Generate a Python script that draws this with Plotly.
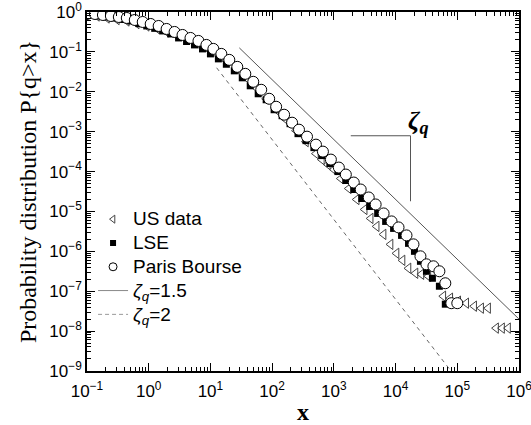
import plotly.graph_objects as go

# ---- data (log10 values) ----
paris_logx = [-1.0, -0.871, -0.742, -0.613, -0.484, -0.355, -0.226, -0.097, 0.032, 0.161,
              0.290, 0.419, 0.548, 0.677, 0.806, 0.935, 1.048, 1.177, 1.306, 1.435,
              1.565, 1.694, 1.823, 1.952, 2.065, 2.194, 2.323, 2.435, 2.565, 2.710,
              2.823, 2.952, 3.081, 3.194, 3.323, 3.435, 3.565, 3.677, 3.806, 3.935,
              4.048, 4.177, 4.290, 4.403, 4.500, 4.613, 4.710, 4.806, 4.903, 5.0]
paris_logy = [-0.05, -0.05, -0.075, -0.1, -0.125, -0.15, -0.2, -0.25, -0.3, -0.35,
              -0.425, -0.5, -0.575, -0.65, -0.725, -0.825, -0.925, -1.05, -1.2, -1.375,
              -1.55, -1.75, -1.95, -2.175, -2.375, -2.575, -2.775, -2.95, -3.125, -3.325,
              -3.5, -3.7, -3.9, -4.075, -4.275, -4.45, -4.65, -4.825, -5.05, -5.25,
              -5.4, -5.6, -5.825, -6.125, -6.325, -6.375, -6.5, -6.8, -7.3, -7.3]

lse_logx = [-0.935, -0.806, -0.677, -0.548, -0.419, -0.290, -0.161, -0.032, 0.097, 0.226,
            0.355, 0.484, 0.613, 0.742, 0.871, 1.0, 1.129, 1.258, 1.387, 1.516,
            1.645, 1.774, 1.903, 2.032, 2.161, 2.290, 2.419, 2.548, 2.677, 2.806,
            2.935, 3.065, 3.194, 3.323, 3.452, 3.581, 3.710, 3.839, 3.968, 4.097,
            4.210, 4.306, 4.403, 4.500, 4.597, 4.710, 4.806]
lse_logy = [-0.075, -0.1, -0.125, -0.15, -0.1875, -0.225, -0.29, -0.35, -0.41, -0.475,
            -0.55, -0.65, -0.74, -0.825, -0.925, -1.05, -1.175, -1.31, -1.475, -1.65,
            -1.85, -2.05, -2.2, -2.45, -2.6, -2.8, -3.05, -3.225, -3.4, -3.6,
            -3.8, -4.0, -4.225, -4.45, -4.675, -4.875, -5.05, -5.25, -5.425, -5.6,
            -5.8, -6.0, -6.25, -6.5, -6.675, -6.875, -7.325]

us_logx = [-1.0, -0.839, -0.677, -0.516, -0.355, -0.194, -0.032, 0.129, 0.290, 0.452,
           0.613, 0.774, 0.935, 1.097, 1.258, 1.419, 1.581, 1.742, 1.903, 2.065,
           2.226, 2.387, 2.548, 2.710, 2.806, 2.903, 3.0, 3.113, 3.242, 3.371,
           3.5, 3.597, 3.694, 3.806, 3.919, 4.016, 4.113, 4.210, 4.323, 4.419,
           4.532, 4.774, 4.887, 5.016, 5.145, 5.274, 5.387, 5.5, 5.629, 5.726, 5.823]
us_logy = [-0.02, -0.1, -0.15, -0.19, -0.225, -0.29, -0.35, -0.41, -0.5, -0.59,
           -0.69, -0.775, -0.9, -1.05, -1.225, -1.425, -1.65, -1.9, -2.175, -2.45,
           -2.7, -2.975, -3.25, -3.55, -3.7, -3.825, -3.95, -4.175, -4.425, -4.7,
           -4.95, -5.175, -5.375, -5.575, -5.825, -6.05, -6.225, -6.425, -6.55, -6.575,
           -6.625, -7.125, -7.175, -7.25, -7.3, -7.375, -7.425, -7.425, -7.925, -7.925, -7.925]

line15_x = [29.4, 1.0e6]
line15_y = [0.126, 2.0e-8]
line2_x = [12.6, 7.9e4]
line2_y = [0.04, 1.0e-9]
zeta_mark_x = [1880, 17460, 17460]
zeta_mark_y = [7.9e-4, 7.9e-4, 1.8e-5]

x_tickvals = [0.1, 1, 10, 100, 1e3, 1e4, 1e5, 1e6]
x_ticktext = ["10<sup>−1</sup>", "10<sup>0</sup>", "10<sup>1</sup>", "10<sup>2</sup>",
              "10<sup>3</sup>", "10<sup>4</sup>", "10<sup>5</sup>", "10<sup>6</sup>"]
y_tickvals = [1e-9, 1e-8, 1e-7, 1e-6, 1e-5, 1e-4, 1e-3, 1e-2, 1e-1, 1]
y_ticktext = ["10<sup>−9</sup>", "10<sup>−8</sup>", "10<sup>−7</sup>", "10<sup>−6</sup>",
              "10<sup>−5</sup>", "10<sup>−4</sup>", "10<sup>−3</sup>", "10<sup>−2</sup>",
              "10<sup>−1</sup>", "10<sup>0</sup>"]

legend_names = ["US data", "LSE", "Paris Bourse",
                "<i>ζ</i><sub><i>q</i></sub>=1.5", "<i>ζ</i><sub><i>q</i></sub>=2"]


def pw(v):
    return [10 ** a for a in v]


def big(t):
    return '<span style="font-size:19px">' + t + '</span>'


us_marker = dict(symbol="triangle-left-open", color="#444", line=dict(width=1, color="#444"))
lse_marker = dict(symbol="square", color="black")
paris_marker = dict(symbol="circle", color="white", line=dict(width=1, color="black"))

fig = go.Figure()
# data traces
fig.add_trace(go.Scatter(x=pw(us_logx), y=pw(us_logy), mode="markers", showlegend=False,
                         marker=dict(size=9, **us_marker)))
fig.add_trace(go.Scatter(x=pw(lse_logx), y=pw(lse_logy), mode="markers", showlegend=False,
                         marker=dict(size=7, **lse_marker)))
fig.add_trace(go.Scatter(x=pw(paris_logx), y=pw(paris_logy), mode="markers", showlegend=False,
                         marker=dict(size=11, **paris_marker)))
fig.add_trace(go.Scatter(x=line15_x, y=line15_y, mode="lines", showlegend=False,
                         line=dict(color="#555", width=1)))
fig.add_trace(go.Scatter(x=line2_x, y=line2_y, mode="lines", showlegend=False,
                         line=dict(color="#666", width=1, dash="4px,4px")))
fig.add_trace(go.Scatter(x=zeta_mark_x, y=zeta_mark_y, mode="lines", showlegend=False,
                         line=dict(color="#555", width=1)))

# legend-only entries (small symbols like the reference)
fig.add_trace(go.Scatter(x=[None], y=[None], mode="markers", name=big(legend_names[0]),
                         marker=dict(size=7, **us_marker)))
fig.add_trace(go.Scatter(x=[None], y=[None], mode="markers", name=big(legend_names[1]),
                         marker=dict(size=6, **lse_marker)))
fig.add_trace(go.Scatter(x=[None], y=[None], mode="markers", name=big(legend_names[2]),
                         marker=dict(size=8, **paris_marker)))
fig.add_trace(go.Scatter(x=[None], y=[None], mode="lines", name=big(legend_names[3]),
                         line=dict(color="#888", width=1)))
fig.add_trace(go.Scatter(x=[None], y=[None], mode="lines", name=big(legend_names[4]),
                         line=dict(color="#999", width=1, dash="4px,3px")))

fig.add_annotation(x=4.37, y=-2.75, xref="x", yref="y", showarrow=False,
                   text="<b><i>ζ<sub>q</sub></i></b>",
                   font=dict(family="Liberation Serif", size=26, color="black"))

axis_common = dict(type="log", showline=True, linecolor="black", linewidth=1.5,
                   mirror="allticks", ticks="inside", ticklen=8, tickwidth=1,
                   tickcolor="black", showgrid=False, zeroline=False, automargin=False,
                   tickfont=dict(family="Liberation Sans", size=17, color="black"),
                   minor=dict(ticks="inside", ticklen=4, tickcolor="black", dtick="D1",
                              showgrid=False))

fig.update_xaxes(range=[-1, 6], tickvals=x_tickvals, ticktext=x_ticktext,
                 ticklabeloverflow="allow", ticklabelstandoff=4,
                 title=dict(text="<b>x</b>", standoff=4,
                            font=dict(family="Liberation Serif", size=24, color="black")),
                 **axis_common)
fig.update_yaxes(range=[-9, 0], tickvals=y_tickvals, ticktext=y_ticktext,
                 ticklabeloverflow="allow",
                 title=dict(text="Probability distribution P{q>x}", standoff=6,
                            font=dict(family="Liberation Serif", size=24, color="black")),
                 **axis_common)

fig.update_layout(width=531, height=425, margin=dict(l=87, r=12, t=12, b=54),
                  plot_bgcolor="white", paper_bgcolor="white",
                  legend=dict(x=0.014, y=0.47, xanchor="left", yanchor="top",
                              bgcolor="rgba(0,0,0,0)", tracegroupgap=0,
                              font=dict(family="Liberation Sans", size=16, color="black")))

fig.write_html("out.html")
